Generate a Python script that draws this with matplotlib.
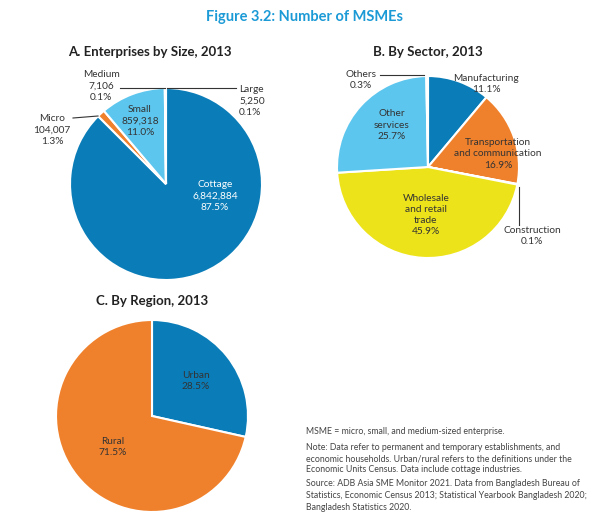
import matplotlib.pyplot as plt

plt.rcParams['font.family'] = ['Lato', 'DejaVu Sans']

W, H = 610, 526

# Panel A: enterprises by size
size_labels = ['Cottage', 'Micro', 'Small', 'Medium', 'Large']
size_counts = [6842884, 104007, 859318, 7106, 5250]
size_pct = [87.5, 1.3, 11.0, 0.1, 0.1]
size_colors = ['#0a7db8', '#f0812c', '#5dc6ee', '#0a7db8', '#0a7db8']

# Panel B: by sector
sector_labels = ['Manufacturing', 'Transportation\nand communication', 'Construction',
                 'Wholesale\nand retail\ntrade', 'Other\nservices', 'Others']
sector_pct = [11.1, 16.9, 0.1, 45.9, 25.7, 0.3]
sector_colors = ['#0a7db8', '#f0812c', '#7a7a7a', '#ede31a', '#5dc6ee', '#9a9a9a']

# Panel C: by region
region_labels = ['Urban', 'Rural']
region_pct = [28.5, 71.5]
region_colors = ['#0a7db8', '#f0812c']

txt = '#333333'


def pie_axes(fig, cx, cy, r):
    # square axes in pixel units, centred on (cx, cy) from top-left
    ax = fig.add_axes([(cx - r) / W, (H - cy - r) / H, 2 * r / W, 2 * r / H])
    ax.set_xlim(-1, 1)
    ax.set_ylim(-1, 1)
    ax.axis('off')
    return ax


def px(ax, cx, cy, r, x, y):
    # pixel position -> data coords of a pie axes
    return (x - cx) / r, (cy - y) / r


fig = plt.figure(figsize=(W / 100, H / 100), dpi=100)
fig.text(0.5, 1 - 17 / H, 'Figure 3.2: Number of MSMEs', ha='center', va='center',
         fontsize=10.5, fontweight='bold', color='#1b9ad6')

# ---- A ----
cA = (166, 184, 96)
axA = pie_axes(fig, *cA)
axA.pie(size_pct, colors=size_colors, startangle=90, counterclock=False, radius=1,
        wedgeprops=dict(edgecolor='white', linewidth=1.5))
axA.set_xlim(-1, 1); axA.set_ylim(-1, 1)
fig.text(150 / W, 1 - 52 / H, 'A. Enterprises by Size, 2013', ha='center', va='center',
         fontsize=9.5, fontweight='bold', color='#222222')

def lab(ax, c, x, y, s, color=txt, ha='center'):
    dx, dy = px(ax, *c, x, y)
    ax.text(dx, dy, s, ha=ha, va='center', fontsize=7.3, color=color,
            linespacing=1.3, clip_on=False)

lab(axA, cA, 215, 196, '%s\n%s\n%.1f%%' % (size_labels[0], f'{size_counts[0]:,}', size_pct[0]), color='white')
lab(axA, cA, 140, 121, '%s\n%s\n%.1f%%' % (size_labels[2], f'{size_counts[2]:,}', size_pct[2]))
lab(axA, cA, 52, 130, '%s\n%s\n%.1f%%' % (size_labels[1], f'{size_counts[1]:,}', size_pct[1]))
lab(axA, cA, 101, 86, '%s\n%s\n%.1f%%' % (size_labels[3], f'{size_counts[3]:,}', size_pct[3]))
lab(axA, cA, 239, 101, '%s\n%s\n%.1f%%' % (size_labels[4], f'{size_counts[4]:,}', size_pct[4]), ha='left')

def line(ax, c, pts):
    xs, ys = zip(*[px(ax, *c, x, y) for x, y in pts])
    ax.plot(xs, ys, color='#333333', lw=0.8, clip_on=False)

line(axA, cA, [(120, 88), (165, 88)])
line(axA, cA, [(167, 88), (236, 88)])
line(axA, cA, [(73, 118), (98, 116)])

# ---- B ----
cB = (428, 167, 91)
axB = pie_axes(fig, *cB)
axB.pie(sector_pct, colors=sector_colors, startangle=90, counterclock=False, radius=1,
        wedgeprops=dict(edgecolor='white', linewidth=1.5))
axB.set_xlim(-1, 1); axB.set_ylim(-1, 1)
fig.text(428 / W, 1 - 52 / H, 'B. By Sector, 2013', ha='center', va='center',
         fontsize=9.5, fontweight='bold', color='#222222')

lab(axB, cB, 486, 84, '%s\n%.1f%%' % (sector_labels[0], sector_pct[0]))
lab(axB, cB, 498, 154, '%s\n%.1f%%' % (sector_labels[1], sector_pct[1]))
lab(axB, cB, 532, 236, '%s\n%.1f%%' % (sector_labels[2], sector_pct[2]))
lab(axB, cB, 426, 215, '%s\n%.1f%%' % (sector_labels[3], sector_pct[3]))
lab(axB, cB, 392, 125, '%s\n%.1f%%' % (sector_labels[4], sector_pct[4]))
lab(axB, cB, 361, 80, '%s\n%.1f%%' % (sector_labels[5], sector_pct[5]))
line(axB, cB, [(380, 75), (424, 75)])
line(axB, cB, [(519, 187), (519, 225)])

# ---- C ----
cC = (152, 416, 96)
axC = pie_axes(fig, *cC)
axC.pie(region_pct, colors=region_colors, startangle=90, counterclock=False, radius=1,
        wedgeprops=dict(edgecolor='white', linewidth=1.5))
axC.set_xlim(-1, 1); axC.set_ylim(-1, 1)
fig.text(152 / W, 1 - 301 / H, 'C. By Region, 2013', ha='center', va='center',
         fontsize=9.5, fontweight='bold', color='#222222')
lab(axC, cC, 196, 381, '%s\n%.1f%%' % (region_labels[0], region_pct[0]))
lab(axC, cC, 113, 447, '%s\n%.1f%%' % (region_labels[1], region_pct[1]))

# ---- notes ----
notes = [
    (432, 'MSME = micro, small, and medium-sized enterprise.'),
    (447, 'Note: Data refer to permanent and temporary establishments, and'),
    (459, 'economic households. Urban/rural refers to the definitions under the'),
    (470, 'Economic Units Census. Data include cottage industries.'),
    (484, 'Source: ADB Asia SME Monitor 2021. Data from Bangladesh Bureau of'),
    (496, 'Statistics, Economic Census 2013; Statistical Yearbook Bangladesh 2020;'),
    (507, 'Bangladesh Statistics 2020.'),
]
for y, s in notes:
    fig.text(306 / W, 1 - y / H, s, ha='left', va='center', fontsize=6.3, color='#444444')

fig.savefig('out.png', dpi=100)
